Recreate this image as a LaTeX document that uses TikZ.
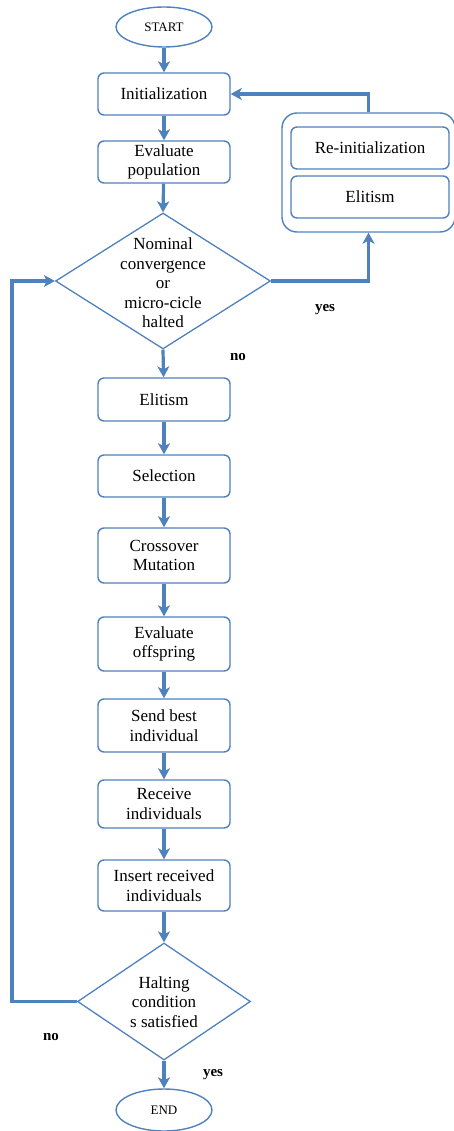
\documentclass[tikz,border=0pt]{standalone}
\usepackage{fontspec}
\setmainfont{Liberation Serif}
\usetikzlibrary{arrows.meta,shapes.geometric}
\definecolor{fblue}{HTML}{4F81BD}
\tikzset{
  stepbox/.style={draw=fblue, line width=1.4pt, rounded corners=6pt, fill=white, minimum width=132pt, inner sep=0pt, align=center, font=\fontsize{17}{19.5}\selectfont},
  term/.style={draw=fblue, line width=1.4pt, ellipse, minimum width=96pt, inner sep=0pt, font=\fontsize{13}{15}\selectfont},
  dia/.style={draw=fblue, line width=1.3pt, diamond, inner sep=0pt},
  dtext/.style={align=center, inner sep=0pt, font=\fontsize{17}{19.5}\selectfont},
  arr/.style={draw=fblue, line width=3.2pt, -{Stealth[length=11pt,width=12pt,inset=3pt]}},
  lab/.style={font=\fontsize{15}{17}\selectfont\bfseries, inner sep=0pt}
}
\begin{document}
\begin{tikzpicture}[x=1pt,y=-1pt]
\useasboundingbox (0,0) rectangle (454,1131);
\node[term, minimum height=40pt] (start) at (164,27) {START};
\node[stepbox, minimum height=42pt] (init) at (164,94) {Initialization};
\node[stepbox, minimum height=42pt] (evalpop) at (164,162) {Evaluate\\population};
\node[dia, minimum width=215pt, minimum height=136pt] (d1) at (163,281) {};
\node[dtext] (d1t) at (163,283) {Nominal\\convergence\\or\\micro-cicle\\halted};
\node[draw=fblue, line width=1.4pt, rounded corners=15pt, minimum width=173pt, minimum height=119pt, inner sep=0pt] (outer) at (368.5,172.5) {};
\node[stepbox, minimum width=158pt, minimum height=42pt] (reinit) at (370,148) {Re-initialization};
\node[stepbox, minimum width=158pt, minimum height=42pt] (elit2) at (370,197) {Elitism};
\node[stepbox, minimum height=43pt] (elit) at (164,399.5) {Elitism};
\node[stepbox, minimum height=42pt] (sel) at (164,476) {Selection};
\node[stepbox, minimum height=55pt] (cross) at (164,555.5) {Crossover\\Mutation};
\node[stepbox, minimum height=54pt] (evoff) at (164,644) {Evaluate\\offspring};
\node[stepbox, minimum height=53pt] (send) at (164,725.5) {Send best\\individual};
\node[stepbox, minimum height=48pt] (recv) at (164,804) {Receive\\individuals};
\node[stepbox, minimum height=51pt] (ins) at (164,885.5) {Insert received\\individuals};
\node[dia, minimum width=173pt, minimum height=117pt] (d2) at (164,1001.5) {};
\node[dtext] (d2t) at (164,1002) {Halting\\condition\\s satisfied};
\node[term, minimum height=42pt] (end) at (164,1110) {END};
\coordinate (lc) at (12,1001.5);
\node[lab] (yes1) at (325,310) {yes};
\node[lab] (no1) at (238,357) {no};
\node[lab] (no2) at (51,1037) {no};
\node[lab] (yes2) at (213,1075) {yes};
\draw[arr] (start) -- (init);
\draw[arr] (init) -- (evalpop);
\draw[arr] (evalpop) -- (d1.north);
\draw[arr] (d1.south) -- (elit);
\draw[arr] (elit) -- (sel);
\draw[arr] (sel) -- (cross);
\draw[arr] (cross) -- (evoff);
\draw[arr] (evoff) -- (send);
\draw[arr] (send) -- (recv);
\draw[arr] (recv) -- (ins);
\draw[arr] (ins) -- (d2.north);
\draw[arr] (d2.south) -- (end);
\draw[arr] (d1.east) -| (outer.south);
\draw[arr] (outer.north) |- (init.east);
\draw[arr] (d2.west) -- (lc) |- (d1.west);
\end{tikzpicture}
\end{document}
